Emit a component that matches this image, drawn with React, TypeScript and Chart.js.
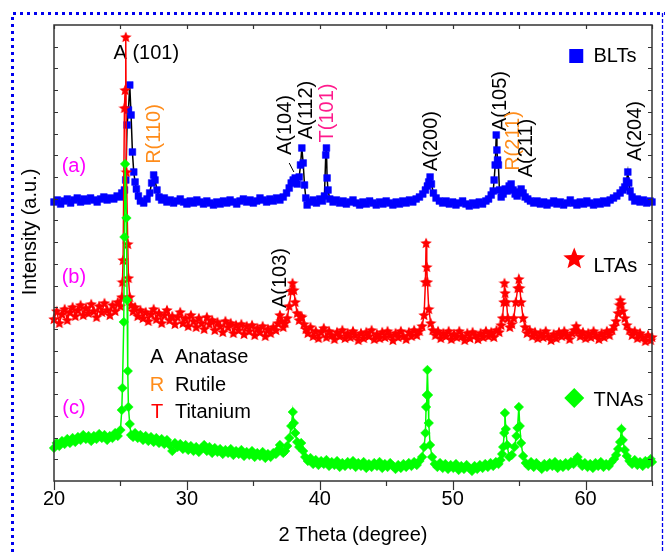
import React, { useEffect, useRef } from "react";
import { Chart, registerables } from "chart.js";

Chart.register(...registerables);

const FONT = '"Liberation Sans", Arial, sans-serif';

// ---------------- data (2θ in degree, intensity in a.u., vertically offset as plotted) ----------------
const xTickValues = [20, 30, 40, 50, 60];
const xTitle = "2 Theta (degree)";
const yTitle = "Intensity (a.u.)";
const seriesNames = ["BLTs", "LTAs", "TNAs"];
const seriesTags = ["(a)", "(b)", "(c)"];
const phaseLetters = ["A", "R", "T"];
const phaseNames = ["Anatase", "Rutile", "Titanium"];

const blts: [number, number][] = [
  [20.0, 279], [20.25, 281], [20.5, 277], [20.75, 280], [21.0, 282], [21.25, 278], [21.5, 281], [21.75, 283],
  [22.0, 279], [22.25, 282], [22.5, 280], [22.75, 283], [23.0, 281], [23.25, 279], [23.5, 282], [23.75, 284],
  [24.0, 281], [24.25, 283], [24.5, 282], [24.75, 285], [25.0, 284], [25.1, 288], [25.2, 286], [25.3, 291],
  [25.4, 301], [25.5, 356], [25.6, 371], [25.7, 396], [25.8, 366], [25.9, 329], [26.0, 309], [26.1, 299],
  [26.2, 292], [26.35, 285], [26.5, 280], [26.75, 278], [27.0, 282], [27.2, 288], [27.35, 298], [27.5, 306],
  [27.6, 301], [27.75, 291], [27.9, 284], [28.1, 281], [28.3, 283], [28.5, 279], [28.75, 281], [29.0, 278],
  [29.25, 280], [29.5, 282], [29.75, 279], [30.0, 277], [30.25, 280], [30.5, 278], [30.75, 281], [31.0, 279],
  [31.25, 277], [31.5, 280], [31.75, 278], [32.0, 276], [32.25, 279], [32.5, 277], [32.75, 280], [33.0, 278],
  [33.25, 281], [33.5, 279], [33.75, 277], [34.0, 280], [34.25, 282], [34.5, 279], [34.75, 281], [35.0, 278],
  [35.25, 280], [35.5, 283], [35.75, 281], [36.0, 279], [36.25, 282], [36.5, 280], [36.75, 283], [37.0, 281],
  [37.25, 284], [37.5, 288], [37.7, 293], [37.85, 298], [38.0, 301], [38.15, 303], [38.3, 297], [38.45, 304],
  [38.55, 316], [38.65, 333], [38.75, 318], [38.85, 296], [38.95, 283], [39.05, 276], [39.25, 279], [39.5, 281],
  [39.75, 278], [40.0, 282], [40.2, 280], [40.35, 285], [40.45, 326], [40.5, 333], [40.55, 303], [40.62, 291],
  [40.75, 282], [41.0, 279], [41.25, 281], [41.5, 278], [41.75, 280], [42.0, 277], [42.25, 279], [42.5, 281],
  [42.75, 278], [43.0, 276], [43.25, 279], [43.5, 277], [43.75, 280], [44.0, 278], [44.25, 276], [44.5, 279],
  [44.75, 277], [45.0, 280], [45.25, 278], [45.5, 276], [45.75, 279], [46.0, 277], [46.25, 280], [46.5, 278],
  [46.75, 281], [47.0, 279], [47.25, 282], [47.5, 284], [47.75, 287], [47.95, 291], [48.1, 295], [48.2, 299],
  [48.3, 304], [48.4, 297], [48.55, 288], [48.75, 283], [49.0, 280], [49.25, 278], [49.5, 280], [49.75, 277],
  [50.0, 279], [50.25, 276], [50.5, 278], [50.75, 280], [51.0, 277], [51.25, 275], [51.5, 278], [51.75, 276],
  [52.0, 279], [52.25, 277], [52.5, 280], [52.7, 282], [52.9, 286], [53.05, 290], [53.12, 301], [53.2, 316],
  [53.28, 346], [53.33, 331], [53.38, 321], [53.44, 316], [53.52, 291], [53.65, 284], [53.8, 287], [53.95, 292],
  [54.1, 290], [54.25, 295], [54.4, 297], [54.55, 291], [54.7, 287], [54.85, 285], [55.0, 289], [55.15, 292],
  [55.3, 288], [55.45, 284], [55.65, 282], [55.85, 280], [56.1, 278], [56.35, 280], [56.6, 277], [56.85, 279],
  [57.1, 276], [57.35, 278], [57.6, 280], [57.85, 277], [58.1, 279], [58.35, 276], [58.6, 278], [58.85, 281],
  [59.1, 278], [59.35, 276], [59.6, 279], [59.85, 277], [60.1, 280], [60.35, 278], [60.6, 276], [60.85, 279],
  [61.1, 277], [61.35, 280], [61.6, 278], [61.85, 281], [62.1, 283], [62.35, 285], [62.6, 288], [62.8, 291],
  [62.95, 294], [63.08, 300], [63.18, 309], [63.25, 298], [63.35, 290], [63.5, 284], [63.7, 280], [63.9, 282],
  [64.1, 279], [64.35, 281], [64.6, 278], [64.85, 280], [65.0, 279],
];

const ltas: [number, number][] = [
  [20.0, 162], [20.2, 170], [20.4, 158], [20.6, 167], [20.8, 172], [21.0, 161], [21.2, 169], [21.4, 174],
  [21.6, 165], [21.8, 171], [22.0, 176], [22.2, 166], [22.4, 173], [22.6, 168], [22.8, 177], [23.0, 170],
  [23.2, 164], [23.4, 175], [23.6, 169], [23.8, 178], [24.0, 171], [24.2, 166], [24.4, 176], [24.6, 170],
  [24.8, 179], [25.0, 175], [25.1, 184], [25.15, 199], [25.2, 221], [25.3, 373], [25.35, 391], [25.4, 444],
  [25.45, 309], [25.55, 237], [25.6, 203], [25.7, 184], [25.8, 176], [25.95, 170], [26.1, 174], [26.3, 165],
  [26.5, 171], [26.7, 163], [26.9, 169], [27.1, 160], [27.3, 167], [27.5, 172], [27.7, 162], [27.9, 168],
  [28.1, 158], [28.3, 166], [28.5, 171], [28.7, 161], [28.9, 165], [29.1, 157], [29.3, 164], [29.5, 169],
  [29.7, 158], [29.9, 163], [30.1, 155], [30.3, 166], [30.5, 160], [30.7, 154], [30.9, 163], [31.1, 158],
  [31.3, 152], [31.5, 164], [31.7, 157], [31.9, 161], [32.1, 151], [32.3, 159], [32.5, 155], [32.7, 149],
  [32.9, 160], [33.1, 154], [33.3, 158], [33.5, 148], [33.7, 156], [33.9, 151], [34.1, 157], [34.3, 147],
  [34.5, 155], [34.7, 150], [34.9, 156], [35.1, 146], [35.3, 153], [35.5, 149], [35.7, 155], [35.9, 145],
  [36.1, 152], [36.3, 148], [36.5, 154], [36.7, 151], [36.85, 158], [37.0, 166], [37.1, 160], [37.25, 154],
  [37.4, 158], [37.55, 163], [37.7, 175], [37.85, 190], [37.95, 198], [38.05, 191], [38.15, 179], [38.3, 168],
  [38.45, 161], [38.55, 165], [38.65, 164], [38.8, 157], [38.95, 152], [39.1, 148], [39.3, 154], [39.5, 145],
  [39.7, 150], [39.9, 143], [40.1, 149], [40.3, 153], [40.5, 144], [40.7, 150], [40.9, 146], [41.1, 142],
  [41.3, 149], [41.5, 145], [41.7, 151], [41.9, 143], [42.1, 148], [42.3, 144], [42.5, 150], [42.7, 146],
  [42.9, 141], [43.1, 148], [43.3, 143], [43.5, 149], [43.7, 145], [43.9, 151], [44.1, 142], [44.3, 147],
  [44.5, 143], [44.7, 149], [44.9, 144], [45.1, 150], [45.3, 146], [45.5, 141], [45.7, 148], [45.9, 144],
  [46.1, 150], [46.3, 145], [46.5, 142], [46.7, 149], [46.9, 145], [47.1, 151], [47.3, 146], [47.5, 150],
  [47.7, 155], [47.85, 166], [47.95, 199], [48.0, 238], [48.05, 214], [48.1, 199], [48.2, 172], [48.35, 158],
  [48.5, 151], [48.7, 146], [48.9, 150], [49.1, 143], [49.3, 148], [49.5, 145], [49.7, 150], [49.9, 142],
  [50.1, 147], [50.3, 144], [50.5, 150], [50.7, 145], [50.9, 141], [51.1, 148], [51.3, 143], [51.5, 149],
  [51.7, 146], [51.9, 142], [52.1, 148], [52.3, 144], [52.5, 150], [52.7, 145], [52.9, 149], [53.1, 144],
  [53.3, 151], [53.5, 149], [53.65, 156], [53.75, 163], [53.85, 179], [53.9, 198], [53.95, 188], [54.05, 179],
  [54.15, 163], [54.3, 154], [54.45, 157], [54.6, 163], [54.75, 179], [54.9, 193], [54.98, 202], [55.05, 193],
  [55.15, 179], [55.3, 163], [55.45, 154], [55.6, 148], [55.8, 151], [56.0, 145], [56.2, 149], [56.4, 143],
  [56.6, 148], [56.8, 144], [57.0, 150], [57.2, 145], [57.4, 141], [57.6, 147], [57.8, 143], [58.0, 149],
  [58.2, 145], [58.4, 150], [58.6, 146], [58.8, 142], [59.0, 148], [59.15, 151], [59.3, 155], [59.45, 150],
  [59.6, 145], [59.8, 149], [60.0, 143], [60.2, 148], [60.4, 144], [60.6, 150], [60.8, 146], [61.0, 142],
  [61.2, 148], [61.4, 144], [61.6, 150], [61.8, 146], [62.0, 151], [62.15, 155], [62.3, 160], [62.45, 168],
  [62.55, 176], [62.62, 181], [62.7, 177], [62.8, 170], [62.95, 163], [63.1, 156], [63.3, 151], [63.5, 146],
  [63.7, 150], [63.9, 143], [64.1, 148], [64.3, 144], [64.5, 140], [64.7, 146], [64.9, 141], [65.0, 144],
];

const tnas: [number, number][] = [
  [20.0, 33], [20.2, 38], [20.4, 35], [20.6, 40], [20.8, 37], [21.0, 42], [21.2, 38], [21.4, 43],
  [21.6, 39], [21.8, 44], [22.0, 41], [22.2, 46], [22.4, 42], [22.6, 45], [22.8, 40], [23.0, 45],
  [23.2, 42], [23.4, 47], [23.6, 43], [23.8, 46], [24.0, 41], [24.2, 45], [24.4, 43], [24.6, 48],
  [24.8, 45], [25.0, 51], [25.1, 71], [25.15, 93], [25.25, 159], [25.3, 244], [25.35, 317], [25.45, 263],
  [25.5, 181], [25.55, 110], [25.6, 74], [25.7, 57], [25.8, 46], [25.95, 44], [26.1, 48], [26.3, 43],
  [26.5, 46], [26.7, 41], [26.9, 45], [27.1, 40], [27.3, 44], [27.5, 39], [27.7, 43], [27.9, 38],
  [28.1, 42], [28.3, 37], [28.5, 41], [28.7, 36], [28.9, 30], [29.1, 38], [29.3, 34], [29.5, 37],
  [29.7, 32], [29.9, 36], [30.1, 31], [30.3, 35], [30.5, 30], [30.7, 34], [30.9, 29], [31.1, 33],
  [31.3, 36], [31.5, 30], [31.7, 34], [31.9, 28], [32.1, 33], [32.3, 29], [32.5, 32], [32.7, 27],
  [32.9, 31], [33.1, 28], [33.3, 32], [33.5, 26], [33.7, 30], [33.9, 27], [34.1, 31], [34.3, 25],
  [34.5, 29], [34.7, 26], [34.9, 30], [35.1, 24], [35.3, 28], [35.5, 25], [35.7, 29], [35.9, 23],
  [36.1, 27], [36.3, 24], [36.5, 28], [36.7, 27], [36.85, 31], [37.0, 36], [37.1, 31], [37.25, 28],
  [37.4, 30], [37.55, 35], [37.7, 43], [37.85, 55], [37.97, 69], [38.05, 58], [38.15, 48], [38.3, 39],
  [38.45, 34], [38.6, 38], [38.75, 30], [38.9, 24], [39.1, 20], [39.3, 23], [39.5, 17], [39.7, 21],
  [39.9, 16], [40.1, 20], [40.3, 17], [40.5, 21], [40.7, 15], [40.9, 19], [41.1, 16], [41.3, 20],
  [41.5, 14], [41.7, 18], [41.9, 15], [42.1, 19], [42.3, 16], [42.5, 20], [42.7, 14], [42.9, 18],
  [43.1, 15], [43.3, 19], [43.5, 13], [43.7, 17], [43.9, 14], [44.1, 18], [44.3, 15], [44.5, 19],
  [44.7, 13], [44.9, 17], [45.1, 14], [45.3, 18], [45.5, 15], [45.7, 12], [45.9, 16], [46.1, 13],
  [46.3, 17], [46.5, 14], [46.7, 18], [46.9, 15], [47.1, 19], [47.3, 16], [47.5, 20], [47.7, 24],
  [47.85, 34], [47.95, 48], [48.0, 74], [48.05, 86], [48.1, 111], [48.15, 86], [48.2, 58], [48.3, 36],
  [48.45, 24], [48.65, 17], [48.85, 14], [49.05, 18], [49.25, 13], [49.45, 17], [49.65, 12], [49.85, 16],
  [50.05, 13], [50.25, 17], [50.45, 11], [50.65, 15], [50.85, 12], [51.05, 16], [51.25, 13], [51.45, 10],
  [51.65, 15], [51.85, 12], [52.05, 16], [52.25, 13], [52.45, 17], [52.65, 14], [52.85, 18], [53.05, 15],
  [53.25, 19], [53.45, 17], [53.6, 21], [53.72, 27], [53.8, 34], [53.88, 48], [53.93, 68], [54.0, 52],
  [54.1, 36], [54.25, 24], [54.45, 26], [54.65, 34], [54.8, 45], [54.88, 53], [54.98, 74], [55.05, 55],
  [55.15, 38], [55.3, 25], [55.5, 18], [55.7, 15], [55.9, 19], [56.1, 14], [56.3, 18], [56.5, 15],
  [56.7, 12], [56.9, 17], [57.1, 14], [57.3, 18], [57.5, 15], [57.7, 19], [57.9, 13], [58.1, 17],
  [58.3, 14], [58.5, 18], [58.7, 15], [58.9, 19], [59.1, 17], [59.25, 21], [59.4, 24], [59.55, 19],
  [59.75, 15], [59.95, 18], [60.15, 14], [60.35, 17], [60.55, 13], [60.75, 18], [60.95, 15], [61.15, 19],
  [61.35, 14], [61.55, 17], [61.75, 15], [61.95, 19], [62.15, 22], [62.3, 26], [62.45, 32], [62.6, 39],
  [62.7, 52], [62.8, 41], [62.95, 31], [63.1, 25], [63.3, 20], [63.5, 17], [63.7, 21], [63.9, 16],
  [64.1, 19], [64.3, 15], [64.5, 20], [64.7, 17], [64.9, 22], [65.0, 19],
];

// peak labels: text, anchor 2θ, anchor intensity, colour, rotated
const peakLabels: [string, number, number, string, boolean][] = [
  ["A (101)", 26.95, 428, "#000000", false],
  ["R(110)", 27.59, 347, "#ff8c1a", true],
  ["A(104)", 37.44, 356, "#000000", true],
  ["A(112)", 39.02, 371, "#000000", true],
  ["T(101)", 40.6, 368, "#ff1a8c", true],
  ["A(200)", 48.42, 340, "#000000", true],
  ["A(105)", 53.61, 380, "#000000", true],
  ["R(211)", 54.59, 340, "#ff8c1a", true],
  ["A(211)", 55.56, 333, "#000000", true],
  ["A(204)", 63.76, 350, "#000000", true],
  ["A(103)", 37.07, 203, "#000000", true],
];

const Y_MIN = 0;
const Y_MAX = 456;
const X_MIN = 20;
const X_MAX = 65;

function starPath(ctx: CanvasRenderingContext2D, cx: number, cy: number, R: number, r: number) {
  ctx.beginPath();
  for (let i = 0; i < 10; i++) {
    const rad = i % 2 === 0 ? R : r;
    const a = -Math.PI / 2 + (i * Math.PI) / 5;
    const px = cx + rad * Math.cos(a);
    const py = cy + rad * Math.sin(a);
    if (i === 0) ctx.moveTo(px, py);
    else ctx.lineTo(px, py);
  }
  ctx.closePath();
}

function makeStarCanvas(size: number, color: string) {
  const c = document.createElement("canvas");
  c.width = size;
  c.height = size;
  const g = c.getContext("2d")!;
  g.fillStyle = color;
  starPath(g, size / 2, size / 2 + 0.5, size / 2, (size / 2) * 0.45);
  g.fill();
  return c;
}

const decorPlugin = {
  id: "decor",
  beforeDatasetsDraw(chart: any) {
    const ctx: CanvasRenderingContext2D = chart.ctx;
    const xs = chart.scales.x;
    const ys = chart.scales.y;
    ctx.save();
    ctx.font = `20px ${FONT}`;
    ctx.textAlign = "center";
    ctx.textBaseline = "middle";
    for (const [text, tx, ty, color, rot] of peakLabels) {
      const px = xs.getPixelForValue(tx);
      const py = ys.getPixelForValue(ty);
      ctx.fillStyle = color;
      ctx.save();
      ctx.translate(px, py);
      if (rot) ctx.rotate(-Math.PI / 2);
      ctx.fillText(text, 0, 0);
      ctx.restore();
    }
    // small pointer for A(104)
    ctx.strokeStyle = "#000";
    ctx.lineWidth = 1;
    ctx.beginPath();
    ctx.moveTo(xs.getPixelForValue(37.7), ys.getPixelForValue(318));
    ctx.lineTo(xs.getPixelForValue(38.05), ys.getPixelForValue(309));
    ctx.stroke();

    // series tags (a) (b) (c)
    ctx.fillStyle = "#ff00ff";
    const tagY = [315, 204, 73];
    seriesTags.forEach((t, i) => {
      ctx.fillText(t, xs.getPixelForValue(21.5), ys.getPixelForValue(tagY[i]));
    });

    // phase key
    const keyColors = ["#000000", "#ff8c1a", "#ff0000"];
    const keyY = [124, 96, 69];
    phaseLetters.forEach((l, i) => {
      const py = ys.getPixelForValue(keyY[i]);
      ctx.textAlign = "center";
      ctx.fillStyle = keyColors[i];
      ctx.fillText(l, xs.getPixelForValue(27.75), py);
      ctx.textAlign = "left";
      ctx.fillStyle = "#000";
      ctx.fillText(phaseNames[i], xs.getPixelForValue(29.1), py);
    });
    ctx.restore();
  },
  afterDatasetsDraw(chart: any) {
    const ctx: CanvasRenderingContext2D = chart.ctx;
    const { left, right, top, bottom } = chart.chartArea;
    const xs = chart.scales.x;
    const ys = chart.scales.y;
    ctx.save();
    // series legend
    ctx.font = `20px ${FONT}`;
    ctx.textBaseline = "middle";
    ctx.textAlign = "left";
    const lx = xs.getPixelForValue(59.3);
    const tx = xs.getPixelForValue(60.6);
    // square
    let py = ys.getPixelForValue(425);
    ctx.fillStyle = "#0000ff";
    ctx.fillRect(lx - 7, py - 7, 14, 14);
    ctx.fillStyle = "#000";
    ctx.fillText(seriesNames[0], tx, py);
    // star
    py = ys.getPixelForValue(215);
    ctx.fillStyle = "#ff0000";
    starPath(ctx, lx - 2, py - 7, 11.5, 5);
    ctx.fill();
    ctx.fillStyle = "#000";
    ctx.fillText(seriesNames[1], tx, py);
    // diamond
    py = ys.getPixelForValue(81);
    ctx.fillStyle = "#00ff00";
    ctx.beginPath();
    ctx.moveTo(lx - 2, py - 12);
    ctx.lineTo(lx + 8, py - 2);
    ctx.lineTo(lx - 2, py + 8);
    ctx.lineTo(lx - 12, py - 2);
    ctx.closePath();
    ctx.fill();
    ctx.fillStyle = "#000";
    ctx.fillText(seriesNames[2], tx, py);

    // frame
    ctx.strokeStyle = "#333";
    ctx.lineWidth = 1.5;
    ctx.strokeRect(left, top, right - left, bottom - top);
    // x ticks
    ctx.lineWidth = 1.2;
    ctx.beginPath();
    for (let v = X_MIN; v <= X_MAX; v += 5) {
      const x = Math.round(xs.getPixelForValue(v)) + 0.5;
      const major = v % 10 === 0;
      ctx.moveTo(x, top);
      ctx.lineTo(x, top + 4);
      ctx.moveTo(x, bottom);
      ctx.lineTo(x, bottom + (major ? 9 : 5));
    }
    // y ticks (21 intervals)
    for (let k = 1; k < 21; k++) {
      const y = Math.round(ys.getPixelForValue(Y_MIN + ((Y_MAX - Y_MIN) * k) / 21)) + 0.5;
      ctx.moveTo(left, y);
      ctx.lineTo(left + 4, y);
      ctx.moveTo(right, y);
      ctx.lineTo(right - 4, y);
    }
    ctx.stroke();

    // y title
    ctx.fillStyle = "#000";
    ctx.textAlign = "center";
    ctx.translate(30, 232);
    ctx.rotate(-Math.PI / 2);
    ctx.fillText(yTitle, 0, 0);
    ctx.restore();
  },
  afterDraw(chart: any) {
    const ctx: CanvasRenderingContext2D = chart.ctx;
    ctx.save();
    ctx.strokeStyle = "#0000ee";
    ctx.lineWidth = 3;
    ctx.setLineDash([3, 4]);
    ctx.beginPath();
    ctx.moveTo(12.5, 552);
    ctx.lineTo(12.5, 13.5);
    ctx.lineTo(665, 13.5);
    ctx.stroke();
    ctx.lineWidth = 1.3;
    ctx.setLineDash([4, 2]);
    ctx.beginPath();
    ctx.moveTo(662.5, 13);
    ctx.lineTo(662.5, 552);
    ctx.stroke();
    ctx.restore();
  },
};

export default function App() {
  const ref = useRef<HTMLCanvasElement>(null);
  useEffect(() => {
    const canvas = ref.current;
    if (!canvas) return;
    const star = makeStarCanvas(12, "#ff0000");
    const toXY = (arr: [number, number][]) => arr.map(([x, y]) => ({ x, y }));
    const chart = new Chart(canvas, {
      type: "line",
      data: {
        datasets: [
          {
            label: seriesNames[0],
            data: toXY(blts),
            borderColor: "#000000",
            borderWidth: 1.5,
            pointStyle: "rect",
            pointRadius: 4.8,
            pointBackgroundColor: "#0000ff",
            pointBorderColor: "#0000ff",
            pointBorderWidth: 0.5,
            tension: 0,
            order: 3,
            clip: 6,
          },
          {
            label: seriesNames[1],
            data: toXY(ltas),
            borderColor: "#ff0000",
            borderWidth: 1.5,
            pointStyle: star as any,
            pointRadius: 6,
            tension: 0,
            order: 2,
            clip: 6,
          },
          {
            label: seriesNames[2],
            data: toXY(tnas),
            borderColor: "#00ff00",
            borderWidth: 1.5,
            pointStyle: "rectRot",
            pointRadius: 4.8,
            pointBackgroundColor: "#00ff00",
            pointBorderColor: "#00ff00",
            pointBorderWidth: 0.5,
            tension: 0,
            order: 1,
            clip: 6,
          },
        ] as any,
      },
      options: {
        responsive: false,
        devicePixelRatio: 1,
        animation: false,
        events: [],
        layout: { padding: { left: 54, top: 25, right: 13, bottom: 0 } },
        plugins: { legend: { display: false }, tooltip: { enabled: false } },
        scales: {
          x: {
            type: "linear",
            min: X_MIN,
            max: X_MAX,
            afterBuildTicks: (s: any) => {
              s.ticks = xTickValues.map((v) => ({ value: v }));
            },
            ticks: {
              font: { size: 20, family: FONT },
              color: "#000",
              padding: 6,
              maxRotation: 0,
              autoSkip: false,
              includeBounds: false,
            },
            grid: { display: false, drawTicks: false },
            border: { display: false },
            title: {
              display: true,
              text: xTitle,
              color: "#000",
              font: { size: 20, family: FONT },
              padding: { top: 6, bottom: 5 },
            },
          },
          y: {
            type: "linear",
            min: Y_MIN,
            max: Y_MAX,
            display: false,
          },
        },
      } as any,
      plugins: [decorPlugin as any],
    });
    return () => chart.destroy();
  }, []);
  return (
    <div style={{ position: "absolute", left: 0, top: 0, width: 665, height: 552, background: "#fff" }}>
      <canvas ref={ref} width={665} height={552} style={{ display: "block", width: 665, height: 552 }} />
    </div>
  );
}
